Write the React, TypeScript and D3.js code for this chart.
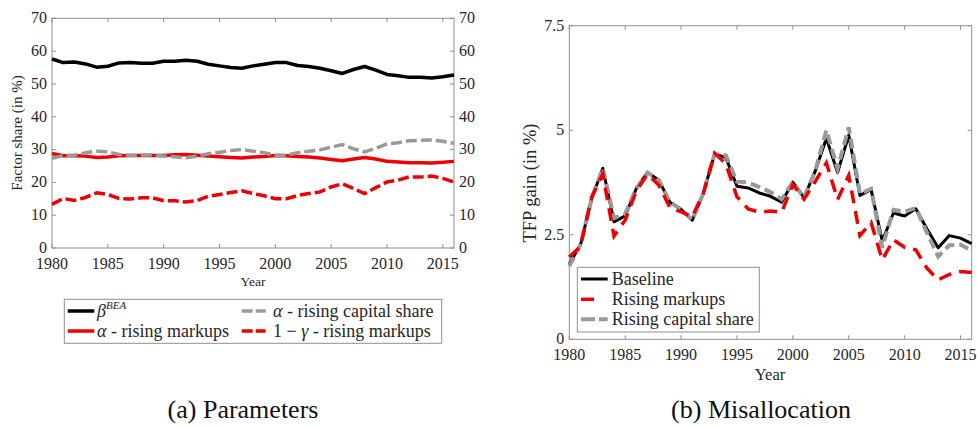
import * as d3 from "d3";

const WIDTH = 977;
const HEIGHT = 426;
const SERIF = { fontFamily: "'Liberation Serif'" };

const years = d3.range(1980, 2017);

// (a) parameters, in %
const betaBEA = [
  57.6, 56.5, 56.7, 56.1, 55.1, 55.4, 56.4, 56.5, 56.3, 56.3, 56.9, 56.9, 57.2,
  56.9, 56.0, 55.5, 55.0, 54.8, 55.5, 56.0, 56.5, 56.5, 55.6, 55.3, 54.8, 54.0,
  53.2, 54.4, 55.3, 54.2, 52.9, 52.5, 52.0, 52.0, 51.8, 52.2, 52.7,
];
const alphaMarkups = [
  28.8, 28.1, 28.1, 28.0, 27.6, 27.7, 28.1, 28.2, 28.2, 28.2, 28.2, 28.4, 28.5,
  28.3, 28.0, 27.8, 27.6, 27.4, 27.7, 27.9, 28.2, 28.1, 27.9, 27.7, 27.4, 27.0,
  26.6, 27.1, 27.6, 27.1, 26.4, 26.2, 26.0, 26.0, 25.9, 26.1, 26.4,
];
const alphaCapital = [
  27.3, 28.2, 28.3, 29.0, 29.5, 29.3, 28.5, 28.2, 28.3, 28.4, 28.0, 27.8, 27.5,
  28.0, 28.7, 29.2, 29.7, 30.0, 29.5, 29.0, 28.3, 28.3, 29.0, 29.5, 29.9, 30.7,
  31.5, 30.2, 29.3, 30.4, 31.7, 32.1, 32.7, 32.8, 32.9, 32.5, 31.9,
];
const oneMinusGamma = [
  13.3, 15.1, 14.5, 15.4, 16.8, 16.3, 15.1, 14.9, 15.3, 15.3, 14.4, 14.4, 14.0,
  14.5, 15.8, 16.3, 16.9, 17.4, 16.6, 15.9, 15.0, 15.0, 16.0, 16.6, 17.1, 18.6,
  19.6, 18.1, 16.6, 18.4, 20.1, 20.7, 21.7, 21.6, 21.9, 21.2, 20.1,
];

// (b) misallocation, TFP gain in %
const baseline = [
  1.80, 2.26, 3.36, 4.09, 2.81, 2.95, 3.61, 3.99, 3.81, 3.28, 3.11, 2.85, 3.50,
  4.43, 4.35, 3.66, 3.62, 3.50, 3.42, 3.28, 3.76, 3.39, 4.02, 4.81, 3.99, 4.88,
  3.44, 3.58, 2.35, 3.02, 2.95, 3.12, 2.64, 2.19, 2.48, 2.42, 2.29,
];
const risingMarkups = [
  1.97, 2.22, 3.40, 3.95, 2.47, 2.85, 3.55, 3.95, 3.69, 3.15, 3.05, 2.93, 3.50,
  4.45, 4.20, 3.41, 3.12, 3.04, 3.07, 3.04, 3.70, 3.35, 3.77, 4.22, 3.34, 3.92,
  2.48, 2.79, 1.90, 2.38, 2.20, 2.14, 1.70, 1.42, 1.55, 1.62, 1.60,
];
const risingCapital = [
  1.75, 2.26, 3.36, 4.09, 2.90, 3.00, 3.61, 3.99, 3.81, 3.28, 3.11, 2.85, 3.50,
  4.43, 4.40, 3.77, 3.75, 3.64, 3.52, 3.35, 3.76, 3.39, 4.02, 5.00, 4.08, 5.07,
  3.48, 3.60, 2.19, 3.10, 3.05, 3.14, 2.55, 1.98, 2.25, 2.26, 2.12,
];

const xTicks = [1980, 1985, 1990, 1995, 2000, 2005, 2010, 2015];
const leftYTicks = [0, 10, 20, 30, 40, 50, 60, 70];
const rightYTicks = [0, 2.5, 5, 7.5];

const AXIS = "#8f8f8f";
const LABEL = "#262626";
const RED = "#ee0000";
const GRAY = "#999999";

function Axes({ x, y, yTicks, mirrorLabels }) {
  const [x0, x1] = x.range();
  const [y0, y1] = y.range();
  return (
    <g>
      <rect x={x0} y={y1} width={x1 - x0} height={y0 - y1} fill="none" stroke={AXIS} strokeWidth={1} />
      {xTicks.map((t) => (
        <g key={t}>
          <line x1={x(t)} x2={x(t)} y1={y0} y2={y0 - 4} stroke={AXIS} />
          <line x1={x(t)} x2={x(t)} y1={y1} y2={y1 + 4} stroke={AXIS} />
          <text x={x(t)} y={y0 + 20.5} textAnchor="middle" fontSize={16} fill={LABEL} style={SERIF}>
            {t}
          </text>
        </g>
      ))}
      {yTicks.map((t) => (
        <g key={t}>
          <line x1={x0} x2={x0 + 4} y1={y(t)} y2={y(t)} stroke={AXIS} />
          <line x1={x1} x2={x1 - 4} y1={y(t)} y2={y(t)} stroke={AXIS} />
          <text x={x0 - 5} y={y(t)} dy="0.3em" textAnchor="end" fontSize={16} fill={LABEL} style={SERIF}>
            {t}
          </text>
          {mirrorLabels && (
            <text x={x1 + 5} y={y(t)} dy="0.3em" textAnchor="start" fontSize={16} fill={LABEL} style={SERIF}>
              {t}
            </text>
          )}
        </g>
      ))}
    </g>
  );
}

function ParametersPanel() {
  const x = d3.scaleLinear().domain([1980, 2016]).range([52, 454]);
  const y = d3.scaleLinear().domain([0, 70]).range([248, 18.3]);
  const line = d3
    .line<number>()
    .x((_, i) => x(years[i]))
    .y((d) => y(d));

  return (
    <g>
      <Axes x={x} y={y} yTicks={leftYTicks} mirrorLabels />
      <path d={line(betaBEA)} fill="none" stroke="#000" strokeWidth={3.5} strokeLinejoin="round" />
      <path d={line(alphaMarkups)} fill="none" stroke={RED} strokeWidth={3.5} strokeLinejoin="round" />
      <path d={line(alphaCapital)} fill="none" stroke={GRAY} strokeWidth={3.5} strokeDasharray="11 4" />
      <path d={line(oneMinusGamma)} fill="none" stroke={RED} strokeWidth={3.5} strokeDasharray="11 4" />

      <text x={253} y={286} textAnchor="middle" fontSize={13.5} fill={LABEL} style={SERIF}>Year</text>
      <text transform="translate(22,133) rotate(-90)" textAnchor="middle" fontSize={15} fill={LABEL} style={SERIF}>
        Factor share (in %)
      </text>

      {/* legend */}
      <rect x={64.3} y={299.3} width={377.4} height={44} fill="#fff" stroke={AXIS} />
      <line x1={67.7} x2={94.3} y1={311} y2={311} stroke="#000" strokeWidth={3.5} />
      <text x={97} y={317} fontSize={18} fill={LABEL} fontStyle="italic" style={SERIF}>
        β<tspan fontSize={11} dy={-8}>BEA</tspan>
      </text>
      <line x1={67.7} x2={94.3} y1={331} y2={331} stroke={RED} strokeWidth={3.5} />
      <text x={97} y={337} fontSize={18} fill={LABEL} style={SERIF}>
        <tspan fontStyle="italic">α</tspan> - rising markups
      </text>
      <line x1={241.7} x2={265.7} y1={311} y2={311} stroke={GRAY} strokeWidth={3.5} strokeDasharray="11 3" />
      <text x={273} y={317} fontSize={18} fill={LABEL} style={SERIF}>
        <tspan fontStyle="italic">α</tspan> - rising capital share
      </text>
      <line x1={241.7} x2={265.7} y1={331} y2={331} stroke={RED} strokeWidth={3.5} strokeDasharray="11 3" />
      <text x={273} y={337} fontSize={18} fill={LABEL} style={SERIF}>
        1 − <tspan fontStyle="italic">γ</tspan> - rising markups
      </text>

      <text x={243} y={418} textAnchor="middle" fontSize={26} fill="#111" style={SERIF}>(a) Parameters</text>
    </g>
  );
}

function MisallocationPanel() {
  const x = d3.scaleLinear().domain([1980, 2016]).range([569.3, 971.7]);
  const y = d3.scaleLinear().domain([0, 7.5]).range([339.3, 25.7]);
  const line = d3
    .line<number>()
    .x((_, i) => x(years[i]))
    .y((d) => y(d));

  return (
    <g>
      <Axes x={x} y={y} yTicks={rightYTicks} mirrorLabels={false} />
      <path d={line(baseline)} fill="none" stroke="#000" strokeWidth={3} strokeLinejoin="round" />
      <path d={line(risingCapital)} fill="none" stroke={GRAY} strokeWidth={4} strokeDasharray="10 5" />
      <path d={line(risingMarkups)} fill="none" stroke={RED} strokeWidth={3.5} strokeDasharray="13 8" />

      <text x={770} y={380} textAnchor="middle" fontSize={16.5} fill={LABEL} style={SERIF}>Year</text>
      <text transform="translate(536,183) rotate(-90)" textAnchor="middle" fontSize={18.5} fill={LABEL} style={SERIF}>
        TFP gain (in %)
      </text>

      {/* legend */}
      <rect x={577.3} y={267.3} width={182} height={64.7} fill="#fff" stroke={AXIS} />
      <line x1={581} x2={607.7} y1={279} y2={279} stroke="#000" strokeWidth={3} />
      <text x={611.7} y={285} fontSize={18} fill={LABEL} style={SERIF}>Baseline</text>
      <line x1={581} x2={607.7} y1={299.3} y2={299.3} stroke={RED} strokeWidth={3.5} strokeDasharray="13 20" />
      <text x={611.7} y={305.3} fontSize={18} fill={LABEL} style={SERIF}>Rising markups</text>
      <line x1={581} x2={607.7} y1={319.3} y2={319.3} stroke={GRAY} strokeWidth={4} strokeDasharray="14 4" />
      <text x={611.7} y={325.3} fontSize={18} fill={LABEL} style={SERIF}>Rising capital share</text>

      <text x={761} y={418} textAnchor="middle" fontSize={26} fill="#111" style={SERIF}>(b) Misallocation</text>
    </g>
  );
}

export default function App() {
  return (
    <svg
      width={WIDTH}
      height={HEIGHT}
      viewBox={`0 0 ${WIDTH} ${HEIGHT}`}
      style={{ position: "absolute", left: 0, top: 0, background: "#fff" }}
    >
      <ParametersPanel />
      <MisallocationPanel />
    </svg>
  );
}
